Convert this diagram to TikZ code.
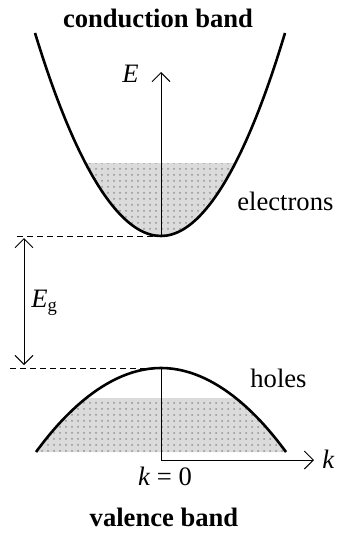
\documentclass[tikz,border=0pt]{standalone}
\usepackage{fontspec}
\setmainfont{Liberation Serif}
\usetikzlibrary{arrows.meta, patterns}

\begin{document}
\begin{tikzpicture}[x=0.5pt, y=-0.5pt,
  >={Straight Barb[length=4.5pt, width=9pt]},
  every node/.style={font=\fontsize{13.3}{16}\selectfont, inner sep=0pt},
  band/.style={line width=1.3pt},
  axis/.style={line width=0.45pt},
  level/.style={line width=0.5pt, dash pattern=on 3pt off 2pt},
  filled/.style={preaction={fill=gray!28}, pattern=dots, pattern color=gray!85}]

  \useasboundingbox (0,0) rectangle (337,535);

  % Points
  \coordinate (cmin) at (161,236);
  \coordinate (vmax) at (161,368);
  \coordinate (corner) at (161,460);
  \coordinate (Etip) at (161,72);
  \coordinate (ktip) at (314,460);
  \coordinate (gtop) at (24,238);
  \coordinate (gbot) at (24,365);

  % Filled states
  \begin{scope}
    \clip (35,33) parabola bend (cmin) (285,33) -- cycle;
    \fill[filled] (0,163) rectangle (337,240);
  \end{scope}
  \begin{scope}
    \clip (36,452) parabola bend (vmax) (286,452) -- cycle;
    \fill[filled] (0,398) rectangle (337,455);
  \end{scope}

  % Bands
  \draw[band] (35,33) parabola bend (cmin) (285,33);
  \draw[band] (36,452) parabola bend (vmax) (286,452);

  % Levels
  \draw[level] (17,236) -- (cmin);
  \draw[level] (10,368) -- (vmax);

  % Axes
  \draw[axis, ->] (cmin) -- (Etip);
  \draw[axis, ->] (vmax) -- (corner) -- (ktip);
  \draw[axis, <->] (gtop) -- (gbot);

  % Labels
  \node[anchor=base] (cb) at (158,28) {\textbf{conduction band}};
  \node[anchor=base] (vb) at (164,526) {\textbf{valence band}};
  \node[anchor=base west] (el) at (237,210) {electrons};
  \node[anchor=base west] (ho) at (250,387) {holes};
  \node[anchor=base east] (E) at (139,83) {\textit{E}};
  \node[anchor=base west] (Eg) at (31,307) {\textit{E}\textsubscript{g}};
  \node[anchor=base west] (k) at (322,468) {\textit{k}};
  \node[anchor=base] (k0) at (165,485) {\textit{k} = 0};

\end{tikzpicture}
\end{document}
